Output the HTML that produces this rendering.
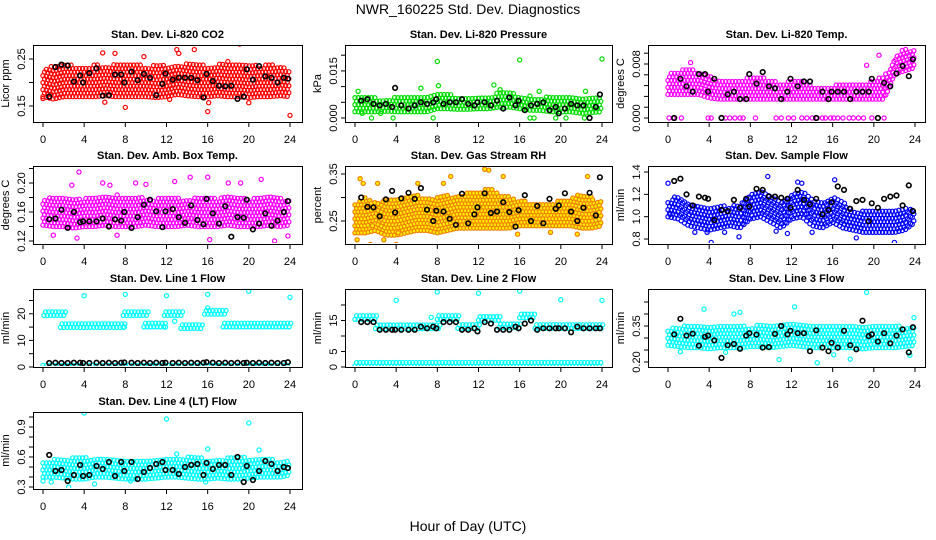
<!DOCTYPE html>
<html><head><meta charset="utf-8"><style>
body{margin:0;background:#fff}
svg{display:block;font-family:"Liberation Sans",Arial,sans-serif}
</style></head><body>
<svg id="chart" width="936" height="540" viewBox="0 0 936 540">
<rect width="936" height="540" fill="#fff"/>
<text x="468" y="14" text-anchor="middle" font-size="14">NWR_160225  Std. Dev. Diagnostics</text>
<text x="468" y="531" text-anchor="middle" font-size="14">Hour of Day (UTC)</text>
</svg>
<script>
// shared hours of black (reference) points
const blackHours=[0.6,1.2,1.8,2.4,3.0,3.6,3.9,4.5,5.2,5.8,6.4,7.0,7.6,7.9,8.6,9.2,9.8,10.4,11.0,11.6,11.9,12.6,13.2,13.8,14.4,15.0,15.6,15.9,16.5,17.1,17.7,18.3,18.9,19.5,19.8,20.4,21.0,21.6,22.2,22.8,23.4,23.8];
const xTicks=[0,4,8,12,16,20,24];

// Panel 1: CO2
const co2Lo=[0.17,0.165,0.17,0.17,0.17,0.17,0.172,0.17,0.17,0.17,0.17,0.168,0.17,0.175,0.172,0.17,0.17,0.172,0.17,0.17,0.168,0.17,0.17,0.172,0.17];
const co2Hi=[0.225,0.24,0.24,0.235,0.235,0.238,0.235,0.24,0.24,0.24,0.235,0.238,0.235,0.24,0.24,0.24,0.235,0.24,0.245,0.24,0.24,0.235,0.24,0.235,0.225];
const co2OutX=[0,6,8,16,19.1,24,13,5.8,7,14.7,12.3,16.1,20,13.2,9.8];
const co2OutY=[0.166,0.158,0.147,0.138,0.282,0.13,0.27,0.263,0.262,0.27,0.164,0.157,0.157,0.262,0.255];
const co2Black=[0.17,0.233,0.238,0.236,0.202,0.215,0.2,0.22,0.23,0.172,0.173,0.217,0.217,0.2,0.223,0.205,0.218,0.21,0.173,0.197,0.219,0.206,0.21,0.21,0.21,0.205,0.168,0.218,0.203,0.193,0.192,0.193,0.165,0.17,0.228,0.206,0.235,0.213,0.21,0.2,0.21,0.208];

// Panel 2: Pressure
const prLo=[0.002,0.002,0.002,0.0022,0.002,0.002,0.002,0.002,0.003,0.003,0.0028,0.0028,0.003,0.003,0.0035,0.0035,0.003,0.0025,0.0025,0.002,0.002,0.002,0.0015,0.0018,0.002];
const prHi=[0.0065,0.0068,0.0065,0.0065,0.0065,0.0065,0.0066,0.0066,0.0078,0.0078,0.007,0.0068,0.0068,0.0068,0.0085,0.0085,0.0072,0.007,0.0068,0.0066,0.0065,0.0066,0.0065,0.0065,0.0066];
const prOutX=[8,16,24,13.5,8.1,6.4,0.3,1.6,3.7,7.6,17,17.4,19.5,20.5,22.3,14.1,17.9,0.7,2.5,5.5,22.4];
const prOutY=[0.018,0.0185,0.0188,0.0105,0.0103,0.0095,0.0085,0,0,0,0,0,0,0,0,0.009,0.0085,0.0015,0.0015,0.0045,0.0085];
const prBlack=[0.0055,0.006,0.0045,0.004,0.0045,0.0035,0.0096,0.004,0.003,0.004,0.005,0.0045,0.005,0.006,0.0045,0.005,0.005,0.006,0.0045,0.004,0.005,0.005,0.004,0.0055,0.003,0.0065,0.004,0.0055,0.0025,0.004,0.0045,0.005,0.0025,0.0035,0.0015,0.003,0.0045,0.004,0.004,0,0.0035,0.0075];

// Panel 3: Li-820 Temp
const tLo=[0.0035,0.0035,0.0035,0.0035,0.003,0.0028,0.0028,0.0028,0.0028,0.0028,0.0028,0.0028,0.0028,0.0028,0.0028,0.0028,0.0028,0.0028,0.0028,0.0028,0.0028,0.0028,0.0065,0.007,0.0075];
const tHi=[0.0065,0.007,0.0075,0.0068,0.0062,0.0055,0.0058,0.0056,0.0062,0.0062,0.0055,0.0052,0.006,0.0055,0.0048,0.0048,0.0048,0.0052,0.0052,0.0052,0.0058,0.0062,0.009,0.0105,0.01];
const tOutX=[0.1,0.5,1.3,3.9,4.2,5.2,5.6,6,6.5,7,7.3,8.5,10.5,11,11.7,12.2,13,13.5,14,14.5,15,15.3,15.8,16.1,16.5,17,17.6,18,18.5,19,19.8,21,23.3,20.5,2.2,19.3];
const tOutY=[0,0,0,0,0,0,0,0,0,0,0,0,0,0,0,0,0,0,0,0,0,0,0,0,0,0,0,0,0,0,0,0,0.0116,0.0093,0.0082,0.0078];
const tBlack=[0,0.0058,0.0047,0.0039,0.0065,0.0065,0.0039,0.0058,0,0.0035,0.0039,0.0028,0.0028,0.0065,0.0051,0.0068,0.0047,0.0044,0.0028,0.0039,0.0058,0.0047,0.0054,0.0054,0,0.0039,0.0028,0.0039,0.0039,0.0039,0.0028,0.0039,0.0039,0.0039,0.0058,0,0.0052,0.0047,0.0066,0.0077,0.0062,0.0087];

// Panel 4: Amb Box Temp
const aLo=[0.142,0.14,0.14,0.138,0.14,0.14,0.142,0.14,0.14,0.14,0.142,0.14,0.14,0.14,0.142,0.14,0.14,0.14,0.142,0.14,0.14,0.14,0.142,0.14,0.142];
const aHi=[0.178,0.182,0.18,0.18,0.178,0.182,0.18,0.185,0.18,0.182,0.18,0.178,0.182,0.18,0.178,0.182,0.18,0.178,0.182,0.18,0.178,0.18,0.182,0.18,0.178];
const aOutX=[3.5,1,3.3,16.2,18,23.8,7.2,5.8,9,14.3,16,21.2,22.5,2.8,12.8,19.2,10,6.5];
const aOutY=[0.215,0.128,0.124,0.122,0.2,0.127,0.128,0.2,0.2,0.208,0.208,0.205,0.12,0.197,0.202,0.2,0.198,0.197];
const aBlack=[0.15,0.151,0.163,0.138,0.16,0.146,0.147,0.147,0.147,0.151,0.14,0.15,0.148,0.16,0.138,0.153,0.17,0.177,0.161,0.139,0.161,0.164,0.153,0.145,0.169,0.149,0.143,0.178,0.158,0.144,0.168,0.126,0.153,0.152,0.177,0.136,0.144,0.158,0.141,0.148,0.16,0.175];

// Panel 5: Gas Stream RH
const rLo=[0.225,0.225,0.23,0.22,0.22,0.225,0.23,0.23,0.225,0.23,0.235,0.235,0.235,0.235,0.235,0.235,0.24,0.24,0.24,0.24,0.24,0.24,0.235,0.235,0.24];
const rHi=[0.29,0.3,0.29,0.3,0.295,0.3,0.305,0.3,0.3,0.305,0.305,0.31,0.315,0.32,0.31,0.3,0.295,0.29,0.29,0.29,0.295,0.3,0.31,0.3,0.29];
const rOutX=[0.2,0.5,1.5,2.2,2.8,4,4.2,6.1,8.6,9.3,12.6,13,14.4,15.8,16,19,21.6,22.6,0.8,1.7];
const rOutY=[0.21,0.34,0.2,0.33,0.21,0.2,0.225,0.33,0.33,0.345,0.36,0.358,0.345,0.222,0.198,0.226,0.222,0.345,0.33,0.24];
const rBlack=[0.3,0.28,0.279,0.26,0.296,0.314,0.268,0.298,0.31,0.297,0.32,0.274,0.25,0.272,0.27,0.255,0.242,0.308,0.245,0.264,0.279,0.309,0.267,0.27,0.29,0.269,0.238,0.273,0.305,0.25,0.282,0.245,0.297,0.276,0.283,0.309,0.27,0.25,0.278,0.31,0.262,0.343];

// Panel 6: Sample Flow
const fLo=[1.0,0.98,0.92,0.9,0.88,0.9,0.92,0.9,0.98,1.0,0.95,0.9,0.98,1.0,0.92,0.9,0.95,0.9,0.88,0.86,0.86,0.86,0.86,0.88,0.95];
const fHi=[1.15,1.2,1.12,1.1,1.08,1.1,1.1,1.12,1.22,1.25,1.18,1.12,1.22,1.25,1.15,1.15,1.2,1.12,1.05,1.05,1.05,1.05,1.05,1.08,1.05];
const fOutX=[0,0.2,4.2,6.9,9.7,10.5,12.6,16.2,18.3,22,2.6,5.5,3.8,14,13,11.6];
const fOutY=[1.3,1.02,0.77,0.82,1.36,0.87,1.31,1.33,0.81,0.77,0.86,0.86,0.86,0.86,1.3,0.85];
const fBlack=[1.32,1.34,1.2,1.1,1.18,1.17,1.16,0.97,1.06,1.05,1.15,1.08,1.16,1.09,1.25,1.24,1.18,1.18,1.17,1.16,1.08,1.24,1.15,1.11,1.16,1.02,1.06,1.13,1.27,1.24,1.07,1.14,1.15,0.96,1.12,1.08,1.16,1.18,1.19,1.1,1.28,1.05];

// Panel 7: Line 1 Flow (segments)
const l1SegStart=[0.1,1.7,7.8,9.8,11.8,13.4,15.7,17.5];
const l1SegEnd=[2.1,8.0,10.1,12.0,13.6,15.6,17.9,24];
const l1SegLevel=[20.5,16,20.5,16.2,20.5,15.6,21,16.2];
const l1BaseLo=[0.6];
const l1BaseHi=[1.6];
const l1OutX=[4,8,12,16,20,24,12.8,16,7.9,11.9];
const l1OutY=[26.8,27.3,26.8,27.3,28.5,26.2,17.2,22.2,15,15];
const l1Black=[1.5,1.6,1.5,1.5,1.6,1.6,1.5,1.5,1.6,1.5,1.6,1.5,1.6,1.7,1.6,1.5,1.6,1.5,1.6,1.5,1.6,1.5,1.6,1.5,1.6,1.5,1.6,1.8,1.6,1.5,1.6,1.5,1.6,1.5,1.6,1.5,1.6,1.5,1.6,1.5,1.5,1.8];

// Panel 8: Line 2 Flow (segments)
const l2SegStart=[0,2,8,10,12,14,16,17.5];
const l2SegEnd=[2.1,8.1,10.1,12.1,14.1,16.1,17.6,24];
const l2SegLevel=[16.5,13.5,16.5,13.6,16.2,13.8,17,13.6];
const l2BaseLo=[0.3];
const l2BaseHi=[1.5];
const l2OutX=[4,8,12,16,20,24,7.4];
const l2OutY=[21.5,24.2,23.8,24.5,21.7,21.5,16];
const l2Black=[14.5,14.5,14.5,12,12,12,12,12,12,12,13,12.5,13,12.5,14.5,14.5,14.5,12,12,12.5,11.5,14.5,14,12,12,12,13,12.5,14,15,12,12.5,12.5,12.5,12.5,12.5,11.2,13,12.5,12.5,12.5,12.5];

// Panel 9: Line 3 Flow
const l3Lo=[0.27,0.265,0.26,0.26,0.255,0.26,0.26,0.26,0.265,0.265,0.26,0.265,0.27,0.265,0.26,0.26,0.26,0.26,0.26,0.255,0.26,0.26,0.26,0.265,0.27];
const l3Hi=[0.34,0.35,0.35,0.35,0.355,0.35,0.35,0.35,0.35,0.355,0.355,0.36,0.36,0.355,0.35,0.36,0.36,0.355,0.35,0.35,0.35,0.36,0.355,0.35,0.34];
const l3OutX=[14.5,10.8,19.3,3.5,6.4,12.3,7,1.2,23.5,5.6,16.1,17.7,23.9];
const l3OutY=[0.197,0.21,0.49,0.42,0.4,0.43,0.407,0.243,0.228,0.24,0.23,0.212,0.385];
const l3Black=[0.315,0.38,0.31,0.318,0.268,0.305,0.31,0.29,0.217,0.27,0.275,0.255,0.31,0.32,0.314,0.26,0.262,0.317,0.35,0.315,0.33,0.32,0.32,0.245,0.332,0.26,0.245,0.28,0.26,0.33,0.27,0.253,0.372,0.308,0.315,0.285,0.32,0.278,0.31,0.336,0.24,0.345];

// Panel 10: Line 4 (LT) Flow
const l4Lo=[0.4,0.4,0.39,0.38,0.38,0.4,0.4,0.39,0.38,0.38,0.38,0.39,0.4,0.4,0.39,0.38,0.38,0.39,0.38,0.38,0.39,0.4,0.4,0.4,0.42];
const l4Hi=[0.56,0.58,0.58,0.6,0.6,0.58,0.58,0.58,0.58,0.58,0.58,0.58,0.58,0.58,0.6,0.6,0.58,0.58,0.6,0.62,0.58,0.58,0.58,0.56,0.56];
const l4OutX=[4,12,20,16,21,2.5,0,5,8.5,13,0.8,15.8];
const l4OutY=[1.04,0.98,0.94,0.68,0.67,0.3,0.36,0.33,0.36,0.63,0.35,0.35];
const l4Black=[0.62,0.46,0.47,0.36,0.42,0.52,0.41,0.42,0.51,0.48,0.55,0.41,0.55,0.46,0.55,0.38,0.45,0.49,0.53,0.55,0.47,0.47,0.43,0.5,0.52,0.53,0.42,0.54,0.48,0.52,0.52,0.42,0.6,0.35,0.51,0.37,0.46,0.56,0.53,0.46,0.5,0.49];

const svg=document.getElementById('chart');
const NS='http://www.w3.org/2000/svg';
function mk(tag,attrs,parent){const e=document.createElementNS(NS,tag);for(const k in attrs)e.setAttribute(k,attrs[k]);(parent||svg).appendChild(e);return e;}

const colBox=[[33,302],[345,612],[648,925]];
const colX=[[43,290],[355,602],[668,915]];
const rowBox=[[45,122],[166,244],[289,367],[412,489]];

const panels=[
 {key:'co2',title:'Stan. Dev. Li-820 CO2',ylab:'Licor ppm',r:0,c:0,v0:0.15,p0:106,k:470,ticks:[0.15,0.2,0.25],labels:['0.15','','0.25'],col:'#ff0000',fill:'none',lo:co2Lo,hi:co2Hi,ox:co2OutX,oy:co2OutY,black:co2Black},
 {key:'pressure',title:'Stan. Dev. Li-820 Pressure',ylab:'kPa',r:0,c:1,v0:0,p0:118,k:3140,ticks:[0,0.005,0.01,0.015,0.02],labels:['0.000','','','0.015',''],col:'#00dd00',fill:'none',lo:prLo,hi:prHi,ox:prOutX,oy:prOutY,black:prBlack},
 {key:'li820-temp',title:'Stan. Dev. Li-820 Temp.',ylab:'degrees C',r:0,c:2,v0:0,p0:118,k:6750,ticks:[0,0.0016,0.0032,0.0048,0.0064,0.008,0.0096],labels:['0.000','','','','','0.008',''],col:'#ff00ff',fill:'none',lo:tLo,hi:tHi,ox:tOutX,oy:tOutY,black:tBlack},
 {key:'amb-temp',title:'Stan. Dev. Amb. Box Temp.',ylab:'degrees C',r:1,c:0,v0:0.12,p0:241,k:725,ticks:[0.12,0.14,0.16,0.18,0.2,0.22],labels:['0.12','','0.16','','0.20',''],col:'#ff00ff',fill:'none',lo:aLo,hi:aHi,ox:aOutX,oy:aOutY,black:aBlack},
 {key:'rh',title:'Stan. Dev. Gas Stream RH',ylab:'percent',r:1,c:1,v0:0.25,p0:221,k:470,ticks:[0.25,0.3,0.35],labels:['0.25','','0.35'],col:'#f08000',fill:'#ffee00',lo:rLo,hi:rHi,ox:rOutX,oy:rOutY,black:rBlack},
 {key:'sample-flow',title:'Stan. Dev. Sample Flow',ylab:'ml/min',r:1,c:2,v0:1.0,p0:216.7,k:111.7,ticks:[0.8,1.0,1.2,1.4],labels:['0.8','1.0','1.2','1.4'],col:'#0000ff',fill:'none',lo:fLo,hi:fHi,ox:fOutX,oy:fOutY,black:fBlack},
 {key:'line1',title:'Stan. Dev. Line 1 Flow',ylab:'ml/min',r:2,c:0,v0:0,p0:367,k:2.66,ticks:[0,5,10,15,20,25],labels:['0','','10','','20',''],col:'#00ffff',fill:'none',seg:[l1SegStart,l1SegEnd,l1SegLevel],base:[l1BaseLo[0],l1BaseHi[0]],ox:l1OutX,oy:l1OutY,black:l1Black},
 {key:'line2',title:'Stan. Dev. Line 2 Flow',ylab:'ml/min',r:2,c:1,v0:0,p0:367,k:3.1,ticks:[0,5,10,15,20],labels:['0','5','','15',''],col:'#00ffff',fill:'none',seg:[l2SegStart,l2SegEnd,l2SegLevel],base:[l2BaseLo[0],l2BaseHi[0]],ox:l2OutX,oy:l2OutY,black:l2Black},
 {key:'line3',title:'Stan. Dev. Line 3 Flow',ylab:'ml/min',r:2,c:2,v0:0.2,p0:362,k:240,ticks:[0.2,0.25,0.3,0.35,0.4,0.45],labels:['0.20','','','0.35','',''],col:'#00ffff',fill:'none',lo:l3Lo,hi:l3Hi,ox:l3OutX,oy:l3OutY,black:l3Black},
 {key:'line4',title:'Stan. Dev. Line 4 (LT) Flow',ylab:'ml/min',r:3,c:0,v0:0.3,p0:487,k:100,ticks:[0.3,0.4,0.5,0.6,0.7,0.8,0.9,1.0],labels:['0.3','','','0.6','','','0.9',''],col:'#00ffff',fill:'none',lo:l4Lo,hi:l4Hi,ox:l4OutX,oy:l4OutY,black:l4Black}
];

function circ(g,x,y,stroke,fill){
  return mk('circle',{cx:x.toFixed(1),cy:y.toFixed(1),r:2.1,fill:fill,stroke:stroke,'stroke-width':1.2},g);
}

panels.forEach(p=>{
  const [L,R]=colBox[p.c],[T,B]=rowBox[p.r],[x0,x24]=colX[p.c];
  const X=h=>x0+(x24-x0)*h/24;
  const Y=v=>p.p0-(v-p.v0)*p.k;
  const g=mk('g',{});
  
  
  const cx=(L+R)/2;
  const t=mk('text',{x:cx,y:T-7,'text-anchor':'middle','font-size':11,'font-weight':'bold'},g);
  t.textContent=p.title;
  
  
  const yl=mk('text',{x:0,y:0,'text-anchor':'middle','font-size':11,transform:`translate(${L-24},${(T+B)/2}) rotate(-90)`},g);
  yl.textContent=p.ylab;
  
  
  const clipId='clip-'+p.key;
  const cp=mk('clipPath',{id:clipId},g);mk('rect',{x:L+1,y:T+1,width:R-L-2,height:B-T-2},cp);
  const mg=mk('g',{'clip-path':`url(#${clipId})`},g);
  
  
  const dx=3.3,dy=3.5;
  function column(px,vlo,vhi){
    const ytop=Y(vhi),ybot=Y(vlo);
    let i=0;
    for(let yy=ybot;yy>=ytop;yy-=dy){circ(mg,px+((i%2)?1.6:0),yy,p.col,p.fill);i++;}
  }
  if(p.lo){
    for(let px=X(0);px<=X(24);px+=dx){
      const h=(px-x0)/(x24-x0)*24;const i=Math.min(23,Math.floor(h));const f=h-i;
      const lo=p.lo[i]*(1-f)+p.lo[i+1]*f,hi=p.hi[i]*(1-f)+p.hi[i+1]*f;
      column(px,lo,hi);
    }
  }
  if(p.seg){
    const [s,e,l]=p.seg;
    for(let j=0;j<s.length;j++){
      for(let px=X(s[j]);px<=X(e[j]);px+=dx) column(px,l[j]-1.1,l[j]+1.1);
    }
    for(let px=X(0);px<=X(24);px+=dx) column(px,p.base[0],p.base[1]);
  }
  for(let j=0;j<p.ox.length;j++){
    const c=circ(mg,X(p.ox[j]),Y(p.oy[j]),p.col,p.fill);
    
    
  }
  const bg=mk('g',{'clip-path':`url(#${clipId})`},g);
  
  
  for(let j=0;j<p.black.length;j++){
    const c=mk('circle',{cx:X(blackHours[j]).toFixed(1),cy:Y(p.black[j]).toFixed(1),r:2.3,fill:'none',stroke:'#000','stroke-width':1.6},bg);
    
    
  }
  const box=mk('rect',{x:L+0.5,y:T+0.5,width:R-L,height:B-T,fill:'none',stroke:'#000','stroke-width':1},g);
  
  
  xTicks.forEach(v=>{
    const xx=X(v);
    mk('line',{x1:xx,x2:xx,y1:B+0.5,y2:B+5,stroke:'#000'},g);
    const tl=mk('text',{x:xx,y:B+21,'text-anchor':'middle','font-size':11},g);
    tl.textContent=v;
    
    
  });
  p.ticks.forEach((v,i)=>{
    const yy=Y(v);
    mk('line',{x1:L+0.5,x2:L-4,y1:yy,y2:yy,stroke:'#000'},g);
    if(p.labels[i]){
      const tl=mk('text',{x:0,y:0,'text-anchor':'middle','font-size':11,transform:`translate(${L-8},${yy}) rotate(-90)`},g);
      tl.textContent=p.labels[i];
      
      
    }
  });
});
</script>
</body></html>
